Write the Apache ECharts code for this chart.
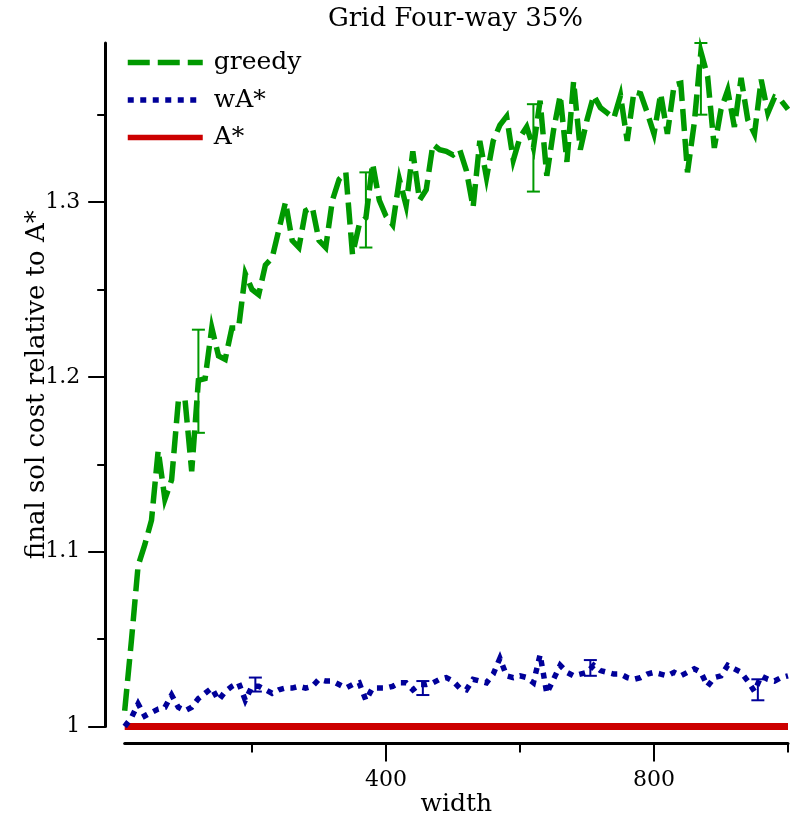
<!DOCTYPE html>
<html>
<head>
<meta charset="utf-8">
<script src="https://cdn.jsdelivr.net/npm/echarts@6/dist/echarts.min.js"></script>
<style>
  html, body { margin: 0; padding: 0; background: #fff; }
  #chart { width: 803px; height: 824px; }
</style>
</head>
<body>
<div id="chart"></div>
<script>
// widths 10..1000
const widths = [];
for (let w = 10; w <= 1000; w += 10) widths.push(w);

const greedy = [
  1.009, 1.049, 1.092, 1.104, 1.118, 1.158, 1.130, 1.141, 1.186, 1.187,
  1.146, 1.198, 1.199, 1.228, 1.212, 1.210, 1.228, 1.228, 1.259, 1.250,
  1.247, 1.264, 1.268, 1.284, 1.300, 1.278, 1.274, 1.295, 1.297, 1.278,
  1.274, 1.301, 1.313, 1.317, 1.270, 1.287, 1.291, 1.322, 1.301, 1.292,
  1.287, 1.313, 1.298, 1.329, 1.301, 1.307, 1.333, 1.330, 1.329, 1.327,
  1.330, 1.318, 1.297, 1.335, 1.314, 1.335, 1.344, 1.349, 1.324, 1.337,
  1.343, 1.331, 1.358, 1.315, 1.341, 1.361, 1.323, 1.369, 1.330, 1.347,
  1.361, 1.354, 1.351, 1.348, 1.361, 1.335, 1.363, 1.362, 1.351, 1.339,
  1.362, 1.339, 1.367, 1.368, 1.317, 1.345, 1.386, 1.372, 1.331, 1.353,
  1.364, 1.343, 1.371, 1.347, 1.339, 1.370, 1.351, 1.360, 1.358, 1.353
];

const wastar = [
  1.000, 1.005, 1.013, 1.006, 1.008, 1.010, 1.011, 1.018, 1.011, 1.009,
  1.011, 1.016, 1.019, 1.022, 1.015, 1.020, 1.023, 1.025, 1.015, 1.023,
  1.023, 1.021, 1.019, 1.021, 1.022, 1.022, 1.023, 1.022, 1.023, 1.027,
  1.026, 1.026, 1.024, 1.022, 1.024, 1.025, 1.015, 1.022, 1.022, 1.022,
  1.023, 1.025, 1.025, 1.021, 1.024, 1.024, 1.025, 1.027, 1.028, 1.026,
  1.022, 1.021, 1.027, 1.026, 1.025, 1.030, 1.039, 1.029, 1.028, 1.029,
  1.028, 1.025, 1.041, 1.019, 1.027, 1.035, 1.031, 1.029, 1.030, 1.031,
  1.035, 1.032, 1.031, 1.030, 1.030, 1.028, 1.027, 1.028, 1.030, 1.031,
  1.030, 1.029, 1.031, 1.029, 1.031, 1.033, 1.031, 1.023, 1.028, 1.029,
  1.035, 1.033, 1.031, 1.026, 1.020, 1.029, 1.027, 1.026, 1.028, 1.029
];

const astar = widths.map(() => 1);

// error bars: x, low, high
const greedyErrX = [120, 370, 620, 870];
const greedyErrLow = [1.168, 1.274, 1.306, 1.350];
const greedyErrHigh = [1.227, 1.317, 1.356, 1.391];
const wastarErrX = [205, 455, 705, 955];
const wastarErrLow = [1.020, 1.018, 1.029, 1.015];
const wastarErrHigh = [1.028, 1.026, 1.038, 1.027];

const xMajorTicks = [400, 800];
const xMinorTicks = [200, 600, 1000];
const yMajorTicks = [1, 1.1, 1.2, 1.3];
const yMinorTicks = [1.05, 1.15, 1.25, 1.35];

const GREEN = '#009900';
const BLUE = '#000099';
const RED = '#cc0000';
const FONT = 'DejaVu Serif';

const chart = echarts.init(document.getElementById('chart'), null, { renderer: 'canvas' });

function pairs(xs, ys) {
  return xs.map((x, i) => [x, ys[i]]);
}

function errBars(color) {
  return function (params, api) {
    const x = api.value(0);
    const lo = api.coord([x, api.value(1)]);
    const hi = api.coord([x, api.value(2)]);
    const half = 6.5;
    const st = { stroke: color, lineWidth: 2 };
    return {
      type: 'group',
      children: [
        { type: 'line', shape: { x1: lo[0], y1: lo[1], x2: hi[0], y2: hi[1] }, style: st },
        { type: 'line', shape: { x1: lo[0] - half, y1: lo[1], x2: lo[0] + half, y2: lo[1] }, style: st },
        { type: 'line', shape: { x1: hi[0] - half, y1: hi[1], x2: hi[0] + half, y2: hi[1] }, style: st }
      ]
    };
  };
}

const xBase = { type: 'value', min: 10, max: 1000, offset: 17, position: 'bottom', splitLine: { show: false } };
const yBase = { type: 'value', min: 1, max: 1.391, offset: 19.5, position: 'left', splitLine: { show: false } };

const option = {
  animation: false,
  backgroundColor: '#fff',
  title: {
    text: 'Grid Four-way 35%',
    left: 455.5,
    textAlign: 'center',
    top: 6,
    padding: 0,
    textStyle: { fontFamily: FONT, fontWeight: 'normal', fontSize: 26, color: '#000' }
  },
  legend: {
    orient: 'vertical',
    left: 125,
    top: 50,
    padding: 0,
    itemWidth: 75,
    itemHeight: 24,
    itemGap: 12.5,
    data: ['greedy', 'wA*', 'A*'],
    itemStyle: { opacity: 0 },
    lineStyle: { width: 5.5 },
    textStyle: { fontFamily: FONT, fontSize: 25, color: '#000', lineHeight: 24, padding: [0, 0, 0, 6] }
  },
  grid: { left: 124.7, right: 15, top: 43, bottom: 97.5, containLabel: false, outerBoundsMode: 'none' },
  xAxis: [
    Object.assign({}, xBase, {
      name: 'width',
      nameLocation: 'middle',
      nameGap: 48,
      nameMoveOverlap: false,
      nameTextStyle: { fontFamily: FONT, fontSize: 25, color: '#000' },
      axisLine: { show: true, lineStyle: { color: '#000', width: 3 } },
      axisTick: { show: true, length: 18, customValues: xMajorTicks, lineStyle: { color: '#000', width: 2 } },
      axisLabel: { show: true, margin: 26, customValues: xMajorTicks, fontFamily: FONT, fontSize: 22, color: '#000' }
    }),
    Object.assign({}, xBase, {
      axisLine: { show: false },
      axisTick: { show: true, length: 9, customValues: xMinorTicks, lineStyle: { color: '#000', width: 2 } },
      axisLabel: { show: false }
    })
  ],
  yAxis: [
    Object.assign({}, yBase, {
      name: 'final sol cost relative to A*',
      nameLocation: 'middle',
      nameGap: 55,
      nameMoveOverlap: false,
      nameTextStyle: { fontFamily: FONT, fontSize: 26, color: '#000' },
      axisLine: { show: true, lineStyle: { color: '#000', width: 3 } },
      axisTick: { show: true, length: 17, customValues: yMajorTicks, lineStyle: { color: '#000', width: 2 } },
      axisLabel: {
        show: true, margin: 25, customValues: yMajorTicks, fontFamily: FONT, fontSize: 22, color: '#000',
        formatter: v => String(Math.round(v * 10) / 10)
      }
    }),
    Object.assign({}, yBase, {
      axisLine: { show: false },
      axisTick: { show: true, length: 8, customValues: yMinorTicks, lineStyle: { color: '#000', width: 2 } },
      axisLabel: { show: false }
    })
  ],
  series: [
    {
      name: 'greedy',
      type: 'line',
      data: pairs(widths, greedy),
      symbol: 'none',
      clip: false,
      color: GREEN,
      lineStyle: { color: GREEN, width: 5.5, type: [22, 8], cap: 'butt', join: 'miter', miterLimit: 6 },
      z: 3
    },
    {
      name: 'wA*',
      type: 'line',
      data: pairs(widths, wastar),
      symbol: 'none',
      clip: false,
      color: BLUE,
      lineStyle: { color: BLUE, width: 5.5, type: [6, 6.5], cap: 'butt', join: 'miter', miterLimit: 6 },
      z: 3
    },
    {
      name: 'A*',
      type: 'line',
      data: pairs(widths, astar),
      symbol: 'none',
      clip: false,
      color: RED,
      lineStyle: { color: RED, width: 7, type: 'solid', cap: 'butt' },
      z: 2
    },
    {
      name: 'greedy err',
      type: 'custom',
      data: greedyErrX.map((x, i) => [x, greedyErrLow[i], greedyErrHigh[i]]),
      encode: { x: 0, y: [1, 2] },
      renderItem: errBars(GREEN),
      clip: false,
      z: 4
    },
    {
      name: 'wA* err',
      type: 'custom',
      data: wastarErrX.map((x, i) => [x, wastarErrLow[i], wastarErrHigh[i]]),
      encode: { x: 0, y: [1, 2] },
      renderItem: errBars(BLUE),
      clip: false,
      z: 4
    }
  ]
};

chart.setOption(option);
</script>
</body>
</html>
